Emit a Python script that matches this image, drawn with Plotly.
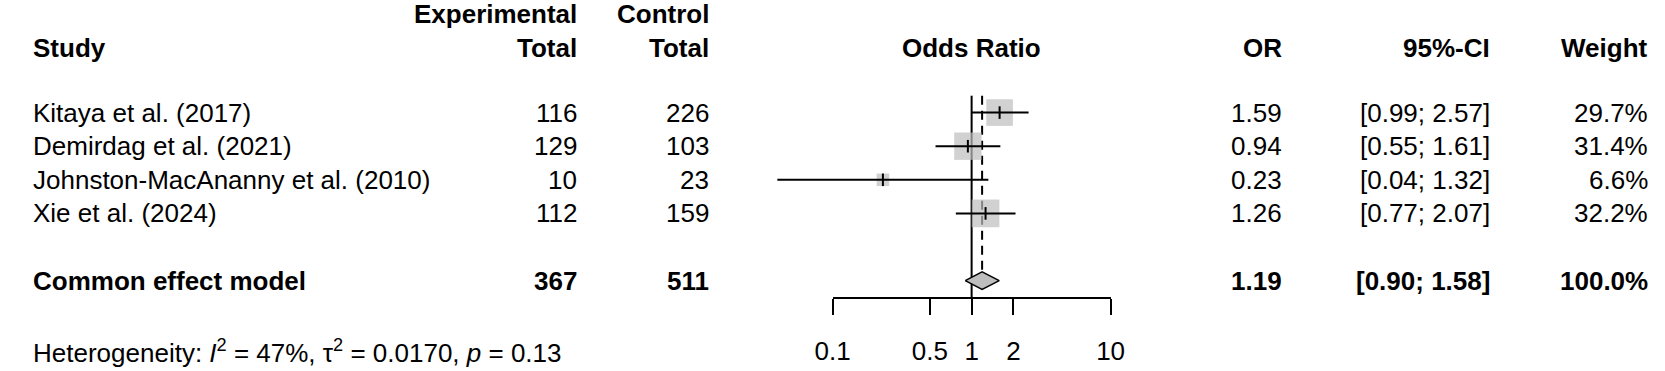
import math
import plotly.graph_objects as go

# ---------------- data ----------------
studies = ["Kitaya et al. (2017)", "Demirdag et al. (2021)",
           "Johnston-MacAnanny et al. (2010)", "Xie et al. (2024)"]
exp_total = [116, 129, 10, 112]
ctrl_total = [226, 103, 23, 159]
or_est = [1.59, 0.94, 0.23, 1.26]
ci_lo = [0.99, 0.55, 0.04, 0.77]
ci_hi = [2.57, 1.61, 1.32, 2.07]
weights = [29.7, 31.4, 6.6, 32.2]

pooled_label = "Common effect model"
pooled_exp = 367
pooled_ctrl = 511
pooled_or = 1.19
pooled_lo = 0.90
pooled_hi = 1.58
pooled_weight = 100.0

het_I2 = 47
het_tau2 = 0.0170
het_p = 0.13

tick_vals = [0.1, 0.5, 1, 2, 10]
tick_text = ["0.1", "0.5", "1", "2", "10"]

# ---------------- layout constants (pixels) ----------------
W, H = 1665, 371
ROW0_PX, ROW_PX = 112.6, 33.6
X1_PX, DEC_PX = 972.3, 141.7
AXIS_PX = 297.7
FONT = "Arial, Liberation Sans, sans-serif"
FS = 26
GREY = "#BEBEBE"


def row_of(px):
    return 1 + (px - ROW0_PX) / ROW_PX


def paper_x(px):
    return px / W


study_rows = [1, 2, 3, 4]
pooled_row = 6
header_row = row_of(47.5)
header2_row = row_of(13.5)
axis_row = row_of(AXIS_PX)
top_row = row_of(95.7)

XD0, XD1 = 740, 1140
x_range = [(XD0 - X1_PX) / DEC_PX, (XD1 - X1_PX) / DEC_PX]
AX0 = X1_PX + DEC_PX * math.log10(tick_vals[0])
AX1 = X1_PX + DEC_PX * math.log10(tick_vals[-1])

fig = go.Figure()

# line of no effect and pooled-estimate line
fig.add_trace(go.Scatter(x=[1, 1], y=[top_row, axis_row], mode="lines",
                         line=dict(color="black", width=2), hoverinfo="skip"))
diam_h = 8.7 / ROW_PX
fig.add_trace(go.Scatter(x=[pooled_or, pooled_or], y=[top_row, pooled_row - diam_h],
                         mode="lines", line=dict(color="black", width=2, dash="9px,6px"),
                         hoverinfo="skip"))

# weight squares
wmax = max(weights)
sizes = [27.7 * math.sqrt(w / wmax) for w in weights]
fig.add_trace(go.Scatter(x=or_est, y=study_rows, mode="markers",
                         marker=dict(symbol="square", size=sizes, color=GREY,
                                     line=dict(width=0)), hoverinfo="skip"))

# confidence intervals
cx, cy = [], []
for lo, hi, r in zip(ci_lo, ci_hi, study_rows):
    cx += [lo, hi, None]
    cy += [r, r, None]
fig.add_trace(go.Scatter(x=cx, y=cy, mode="lines",
                         line=dict(color="black", width=2), hoverinfo="skip"))
fig.add_trace(go.Scatter(x=or_est, y=study_rows, mode="markers",
                         marker=dict(symbol="line-ns", size=9,
                                     line=dict(width=2, color="black")),
                         hoverinfo="skip"))

# pooled diamond
fig.add_trace(go.Scatter(
    x=[pooled_lo, pooled_or, pooled_hi, pooled_or, pooled_lo],
    y=[pooled_row, pooled_row - diam_h, pooled_row, pooled_row + diam_h, pooled_row],
    mode="lines", fill="toself", fillcolor=GREY,
    line=dict(color="black", width=1.5), hoverinfo="skip"))

# anchor trace for the visible axis
fig.add_trace(go.Scatter(x=tick_vals, y=[axis_row] * len(tick_vals), xaxis="x2", yaxis="y",
                         mode="markers", marker=dict(opacity=0), hoverinfo="skip"))

ann = []


def txt(px, row, text, anchor, bold=False, yanchor="middle"):
    ann.append(dict(x=paper_x(px), y=row, xref="paper", yref="y",
                    text=f"<b>{text}</b>" if bold else text,
                    showarrow=False, xanchor=anchor, yanchor=yanchor,
                    font=dict(family=FONT, size=FS, color="black")))


STUDY_X, EXP_X, CTRL_X, OR_X, CI_X, W_X = 13, 572, 706.7, 1290.7, 1503.3, 1664

txt(EXP_X, header2_row, "Experimental", "right", True)
txt(CTRL_X, header2_row, "Control", "right", True)
txt(STUDY_X, header_row, "Study", "left", True)
txt(EXP_X, header_row, "Total", "right", True)
txt(CTRL_X, header_row, "Total", "right", True)
txt(X1_PX, header_row, "Odds Ratio", "center", True)
txt(OR_X, header_row, "OR", "right", True)
txt(CI_X, header_row, "95%-CI", "right", True)
txt(W_X, header_row, "Weight", "right", True)

for i, r in enumerate(study_rows):
    txt(STUDY_X, r, studies[i], "left")
    txt(EXP_X, r, str(exp_total[i]), "right")
    txt(CTRL_X, r, str(ctrl_total[i]), "right")
    txt(OR_X, r, f"{or_est[i]:.2f}", "right")
    txt(CI_X, r, f"[{ci_lo[i]:.2f}; {ci_hi[i]:.2f}]", "right")
    txt(W_X, r, f"{weights[i]:.1f}%", "right")

txt(STUDY_X, pooled_row, pooled_label, "left", True)
txt(EXP_X, pooled_row, str(pooled_exp), "right", True)
txt(CTRL_X, pooled_row, str(pooled_ctrl), "right", True)
txt(OR_X, pooled_row, f"{pooled_or:.2f}", "right", True)
txt(CI_X, pooled_row, f"[{pooled_lo:.2f}; {pooled_hi:.2f}]", "right", True)
txt(W_X, pooled_row, f"{pooled_weight:.1f}%", "right", True)

txt(STUDY_X, row_of(370),
    f"Heterogeneity: <i>I</i><sup>2</sup> = {het_I2}%, τ<sup>2</sup> = {het_tau2:.4f}, "
    f"<i>p</i> = {het_p:.2f}", "left", yanchor="bottom")

fig.update_layout(
    width=W, height=H,
    margin=dict(l=0, r=0, t=0, b=0, pad=0),
    paper_bgcolor="white", plot_bgcolor="rgba(0,0,0,0)",
    showlegend=False,
    annotations=ann,
    xaxis=dict(type="log", domain=[paper_x(XD0), paper_x(XD1)], range=x_range,
               visible=False, fixedrange=True),
    xaxis2=dict(type="log", domain=[paper_x(AX0), paper_x(AX1)],
                range=[math.log10(tick_vals[0]), math.log10(tick_vals[-1])],
                anchor="free", position=1 - AXIS_PX / H, side="bottom",
                showline=True, linecolor="black", linewidth=2,
                ticks="outside", ticklen=16, tickwidth=2, tickcolor="black",
                tickvals=tick_vals, ticktext=tick_text,
                tickfont=dict(family=FONT, size=FS, color="black"),
                ticklabelstandoff=14,
                showgrid=False, zeroline=False, fixedrange=True),
    yaxis=dict(range=[row_of(H), row_of(0)], domain=[0, 1], visible=False,
               fixedrange=True),
)

fig.write_html("out.html", config={"responsive": False, "displayModeBar": False},
               post_script="document.body.style.margin='0px';")
